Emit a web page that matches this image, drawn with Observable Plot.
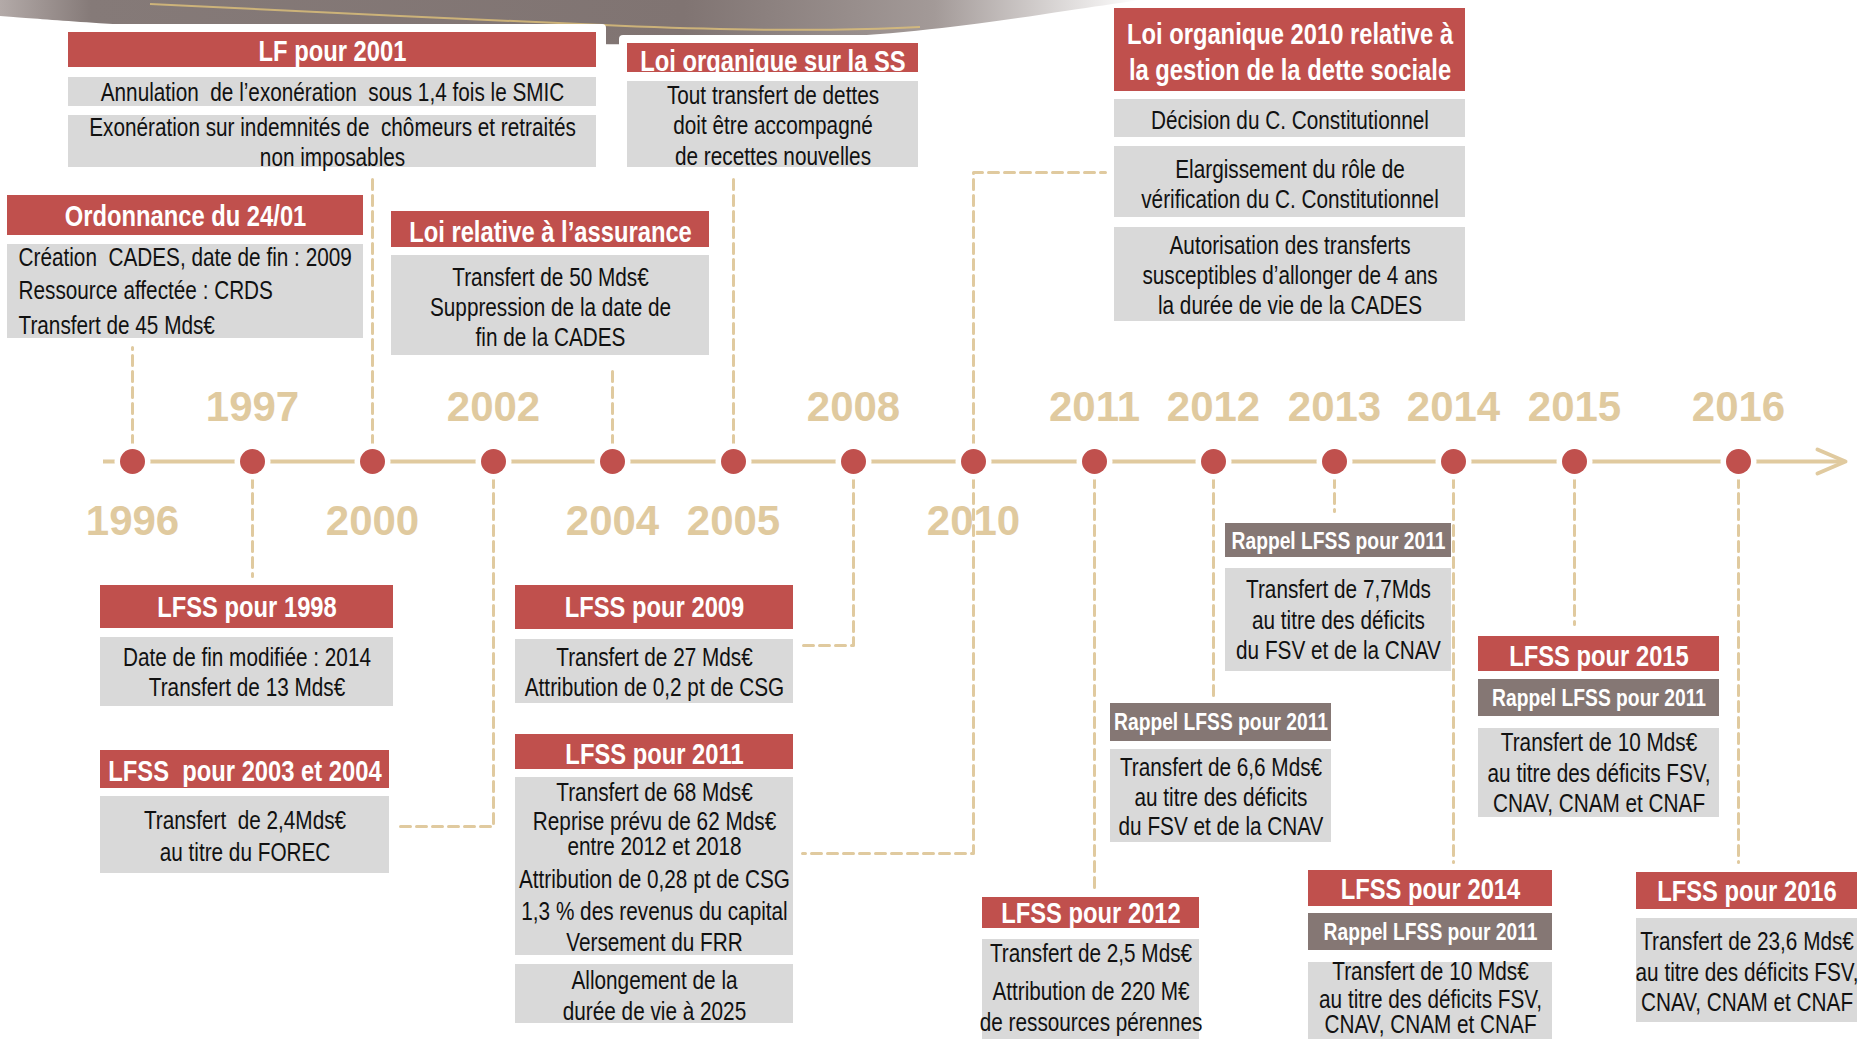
<!DOCTYPE html>
<html>
<head>
<meta charset="utf-8">
<script src="https://cdn.jsdelivr.net/npm/d3@7"></script>
<script src="https://cdn.jsdelivr.net/npm/@observablehq/plot@0.6"></script>
<style>
  html, body { margin: 0; padding: 0; background: #ffffff; }
  #chart { width: 1862px; height: 1039px; overflow: hidden; }
</style>
</head>
<body>
<div id="chart"></div>
<script>
// ---------------- DATA ----------------
const years = ["1996","1997","2000","2002","2004","2005","2008","2010","2011","2012","2013","2014","2015","2016"];
const yearSide = ["below","above","below","above","below","below","above","below","above","above","above","above","above","above"];

const evYear = ["1996","2000","2004","2005","2010","1997","2002","2008","2010","2011","2012","2013","2014","2015","2016"];
const evTitle = [
  "Ordonnance du 24/01",
  "LF pour 2001",
  "Loi relative à l’assurance",
  "Loi organique sur la SS",
  "Loi organique 2010 relative à\nla gestion de la dette sociale",
  "LFSS pour 1998",
  "LFSS  pour 2003 et 2004",
  "LFSS pour 2009",
  "LFSS pour 2011",
  "LFSS pour 2012",
  "",
  "",
  "LFSS pour 2014",
  "LFSS pour 2015",
  "LFSS pour 2016"
];
const evRecall = ["","","","","","","","","","","Rappel LFSS pour 2011","Rappel LFSS pour 2011","Rappel LFSS pour 2011","Rappel LFSS pour 2011",""];
const evBody = [
  [["Création  CADES, date de fin : 2009","Ressource affectée : CRDS","Transfert de 45 Mds€"]],
  [["Annulation  de l’exonération  sous 1,4 fois le SMIC"],["Exonération sur indemnités de  chômeurs et retraités","non imposables"]],
  [["Transfert de 50 Mds€","Suppression de la date de","fin de la CADES"]],
  [["Tout transfert de dettes","doit être accompagné","de recettes nouvelles"]],
  [["Décision du C. Constitutionnel"],["Elargissement du rôle de","vérification du C. Constitutionnel"],["Autorisation des transferts","susceptibles d’allonger de 4 ans","la durée de vie de la CADES"]],
  [["Date de fin modifiée : 2014","Transfert de 13 Mds€"]],
  [["Transfert  de 2,4Mds€","au titre du FOREC"]],
  [["Transfert de 27 Mds€","Attribution de 0,2 pt de CSG"]],
  [["Transfert de 68 Mds€","Reprise prévu de 62 Mds€","entre 2012 et 2018","Attribution de 0,28 pt de CSG","1,3 % des revenus du capital","Versement du FRR"],["Allongement de la","durée de vie à 2025"]],
  [["Transfert de 2,5 Mds€","Attribution de 220 M€","de ressources pérennes"]],
  [["Transfert de 6,6 Mds€","au titre des déficits","du FSV et de la CNAV"]],
  [["Transfert de 7,7Mds","au titre des déficits","du FSV et de la CNAV"]],
  [["Transfert de 10 Mds€","au titre des déficits FSV,","CNAV, CNAM et CNAF"]],
  [["Transfert de 10 Mds€","au titre des déficits FSV,","CNAV, CNAM et CNAF"]],
  [["Transfert de 23,6 Mds€","au titre des déficits FSV,","CNAV, CNAM et CNAF"]]
];

// ---------------- LAYOUT (pixel positions in the 1862x1039 canvas) ----------------
const W = 1862, H = 1039;
const axisY = 461;
const slotX = {"1996":132,"1997":252,"2000":372,"2002":493,"2004":612,"2005":733,"2008":853,"2010":973,"2011":1094,"2012":1213,"2013":1334,"2014":1453,"2015":1574,"2016":1738};
const labelY = {above: 407, below: 521};

const layout = [
  {x1:7,    x2:363,  title:[195,235,[216]], bodies:[[244,338,[257,290,325]]], align:"start", tx:18},
  {x1:68,   x2:596,  title:[32,67,[51]],    bodies:[[77,106,[92]],[115,167,[127,157]]]},
  {x1:391,  x2:709,  title:[211,247,[232]], bodies:[[255,355,[277,307,337]]]},
  {x1:627,  x2:918,  title:[43,72,[61]],    bodies:[[81,167,[95,125,156]]]},
  {x1:1114, x2:1465, title:[8,91,[34,70]],  bodies:[[99,137,[120]],[146,217,[169,199]],[227,321,[245,275,305]]]},
  {x1:100,  x2:393,  title:[585,628,[607]], bodies:[[637,706,[657,687]]]},
  {x1:100,  x2:389,  title:[750,788,[771]], bodies:[[796,873,[820,852]]]},
  {x1:515,  x2:793,  title:[585,629,[607]], bodies:[[639,703,[657,687]]]},
  {x1:515,  x2:793,  title:[734,769,[754]], bodies:[[777,955,[792,821,846,879,911,942]],[964,1023,[980,1011]]]},
  {x1:982,  x2:1199, title:[897,928,[913]], bodies:[[939,1045,[953,991,1022]]]},
  {x1:1110, x2:1331, recall:[703,741,722],  bodies:[[749,842,[767,797,826]]]},
  {x1:1225, x2:1451, recall:[523,557,541],  bodies:[[568,671,[589,620,650]]]},
  {x1:1308, x2:1552, title:[870,906,[889]], recall:[913,950,932], bodies:[[962,1045,[971,999,1024]]]},
  {x1:1478, x2:1719, title:[636,671,[656]], recall:[679,716,698], bodies:[[728,817,[742,773,803]]]},
  {x1:1636, x2:1857, title:[872,909,[891]], bodies:[[918,1022,[941,972,1002]]]}
];

// connectors: ends of the dashed leader lines, starting at the year's dot
const connectorEnds = [
  {year:"1996", pts:[[132,347]]},
  {year:"2000", pts:[[372,175]]},
  {year:"2004", pts:[[612,365]]},
  {year:"2005", pts:[[733,175]]},
  {year:"2010", pts:[[973,172],[1105,172]]},
  {year:"1997", pts:[[252,576]]},
  {year:"2002", pts:[[493,826],[396,826]]},
  {year:"2008", pts:[[853,645],[802,645]]},
  {year:"2010", pts:[[973,853],[802,853]]},
  {year:"2011", pts:[[1094,888]]},
  {year:"2012", pts:[[1213,695]]},
  {year:"2013", pts:[[1334,511]]},
  {year:"2014", pts:[[1453,862]]},
  {year:"2015", pts:[[1574,624]]},
  {year:"2016", pts:[[1738,862]]}
];

// ---------------- STYLES ----------------
const RED = "#C0504D", GREY = "#D9D9D9", BROWN = "#857774", TAN = "#E0CA9F", INK = "#111111";
const FONT = "'Liberation Sans',Arial,Helvetica,sans-serif";
const TITLE_SCALE = 0.82, BODY_SCALE = 0.83; // Arial Narrow ≈ Arial compressed horizontally

// ---------------- BUILD TABLES ----------------
const rects = [], titleTexts = [], recallTexts = [], bodyTexts = [], bodyTextsLeft = [];
evTitle.forEach((t, i) => {
  const L = layout[i];
  const cx = (L.x1 + L.x2) / 2;
  if (L.title && t) {
    rects.push({x1:L.x1, x2:L.x2, y1:L.title[0], y2:L.title[1], fill:RED});
    t.split("\n").forEach((s, j) => titleTexts.push({x:cx, y:L.title[2][j], text:s}));
  }
  if (L.recall && evRecall[i]) {
    rects.push({x1:L.x1, x2:L.x2, y1:L.recall[0], y2:L.recall[1], fill:BROWN});
    recallTexts.push({x:cx, y:L.recall[2], text:evRecall[i]});
  }
  evBody[i].forEach((group, g) => {
    const B = L.bodies[g];
    rects.push({x1:L.x1, x2:L.x2, y1:B[0], y2:B[1], fill:GREY});
    group.forEach((s, j) => {
      if (L.align === "start") bodyTextsLeft.push({x:L.tx, y:B[2][j], text:s});
      else bodyTexts.push({x:cx, y:B[2][j], text:s});
    });
  });
});

const connectors = [];
connectorEnds.forEach((c, k) => {
  connectors.push({id:k, x:slotX[c.year], y:axisY});
  c.pts.forEach(p => connectors.push({id:k, x:p[0], y:p[1]}));
});

const yearTable = years.map((y, i) => ({year:y, x:slotX[y], y:labelY[yearSide[i]]}));

// decorative swoosh at top and white panels behind the first boxes
const swoosh = [
  {x:0,y:16},{x:80,y:22},{x:200,y:30},{x:350,y:38},{x:500,y:43},{x:620,y:45},
  {x:760,y:42},{x:880,y:35},{x:980,y:24},{x:1070,y:10},{x:1140,y:0}
];
const goldLine = [{x:150,y:4},{x:400,y:16},{x:650,y:28},{x:820,y:31},{x:920,y:27}];
const panels = [
  {x1:58, x2:606, y1:24, y2:180},
  {x1:619, x2:925, y1:35, y2:180}
];

function swooshMark(index, scales) {
  const svg = d3.create("svg:g");
  const defs = svg.append("defs");
  const g = defs.append("linearGradient").attr("id","swg").attr("x1","0").attr("x2","1").attr("y1","0").attr("y2","0");
  [["0%","#b3aaa8"],["8%","#857a78"],["60%","#807472"],["82%","#a39a98"],["100%","#ffffff"]]
    .forEach(([o,c]) => g.append("stop").attr("offset",o).attr("stop-color",c));
  const area = d3.area().x(d => scales.x(d.x)).y0(scales.y(0)).y1(d => scales.y(d.y)).curve(d3.curveBasis);
  svg.append("path").attr("d", area(swoosh)).attr("fill","url(#swg)");
  const line = d3.line().x(d => scales.x(d.x)).y(d => scales.y(d.y)).curve(d3.curveBasis);
  svg.append("path").attr("d", line(goldLine)).attr("fill","none").attr("stroke","#d9bd7a").attr("stroke-width",2).attr("opacity",0.85);
  return svg.node();
}

// ---------------- PLOT ----------------
const chart = Plot.plot({
  width: W,
  height: H,
  margin: 0,
  x: {type:"linear", domain:[0, W], range:[0, W], axis:null},
  y: {type:"linear", domain:[0, H], range:[0, H], axis:null},
  style: {background:"#ffffff", overflow:"hidden"},
  marks: [
    swooshMark,
    Plot.rect(panels, {x1:"x1", x2:"x2", y1:"y1", y2:"y2", fill:"#ffffff", rx:4}),
    // timeline
    Plot.ruleY([axisY], {x1:103, x2:1843, stroke:TAN, strokeWidth:4}),
    Plot.line([{x:1817,y:449},{x:1845,y:461},{x:1817,y:473}], {x:"x", y:"y", stroke:TAN, strokeWidth:4, strokeLinecap:"round", strokeLinejoin:"round"}),
    // dashed leaders
    Plot.line(connectors, {x:"x", y:"y", z:"id", stroke:TAN, strokeWidth:3, strokeDasharray:"10,6", curve:"linear"}),
    // dots
    Plot.dot(yearTable, {x:"x", y:axisY, r:18, fill:"#ffffff", stroke:null}),
    Plot.dot(yearTable, {x:"x", y:axisY, r:12.5, fill:RED, stroke:null}),
    // year labels
    Plot.text(yearTable, {x:"x", y:"y", text:"year", fill:TAN, fontSize:42, fontWeight:"bold", fontFamily:FONT, lineAnchor:"middle"}),
    // boxes
    Plot.rect(rects, {x1:"x1", x2:"x2", y1:"y1", y2:"y2", fill:d => d.fill}),
    Plot.text(titleTexts, {x:"x", y:"y", text:"text", fill:"#ffffff", fontSize:29, fontWeight:"bold", fontFamily:FONT, lineAnchor:"middle", ariaDescription:"narrow-title"}),
    Plot.text(recallTexts, {x:"x", y:"y", text:"text", fill:"#ffffff", fontSize:23.5, fontWeight:"bold", fontFamily:FONT, lineAnchor:"middle", ariaDescription:"narrow-title"}),
    Plot.text(bodyTexts, {x:"x", y:"y", text:"text", fill:INK, fontSize:25, fontFamily:FONT, lineAnchor:"middle", ariaDescription:"narrow-body"}),
    Plot.text(bodyTextsLeft, {x:"x", y:"y", text:"text", fill:INK, fontSize:25, fontFamily:FONT, lineAnchor:"middle", textAnchor:"start", ariaDescription:"narrow-body"})
  ]
});

// compress the box texts horizontally to mimic Arial Narrow (only x is affected)
function narrow(sel, s) {
  chart.querySelectorAll(sel).forEach(t => {
    const tr = t.getAttribute("transform") || "";
    const x = t.getAttribute("x");
    let extra = "";
    if (x !== null && !/em/.test(x)) { extra = ` translate(${+x || 0},0)`; t.removeAttribute("x"); }
    t.setAttribute("transform", `${tr}${extra} scale(${s},1)`);
  });
}
narrow('g[aria-description="narrow-title"] text', TITLE_SCALE);
narrow('g[aria-description="narrow-body"] text', BODY_SCALE);
document.getElementById("chart").appendChild(chart);
</script>
</body>
</html>
